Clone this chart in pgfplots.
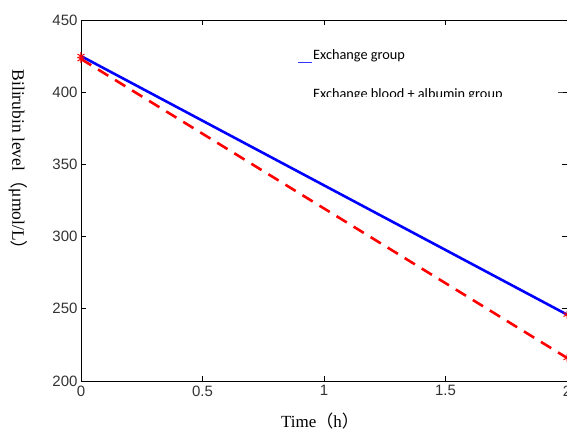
\documentclass[border=0pt]{standalone}
\usepackage{pgfplots}
\pgfplotsset{compat=1.18}
\usepackage{fontspec}
\setmainfont{Liberation Sans}
\newfontfamily\serif{Liberation Serif}
\newfontfamily\cjk{Noto Sans CJK SC}
\newfontfamily\calibri{Carlito}
\begin{document}
\begin{tikzpicture}
\useasboundingbox (-81pt,-49pt) rectangle (486pt,381pt);
\begin{axis}[
 at={(0,0)}, anchor=south west,
 width=486pt, height=361pt, scale only axis,
 xmin=0, xmax=2, ymin=200, ymax=450,
 xtick={0,0.5,1,1.5,2}, ytick={200,250,...,450},
 tick align=inside, major tick length=5pt,
 tick style={black, line width=0.6pt},
 axis line style={line width=0.8pt},
 ticklabel style={font=\fontsize{15}{15}\selectfont, text=black!80},
 /pgf/number format/assume math mode=true,
 xticklabel style={yshift=-1pt},
 clip=false,
]
\addplot[blue, line width=2.6pt, mark=asterisk, mark size=4pt, mark options={red, solid, line width=1pt}] coordinates {(0,425) (2,246)};
\addplot[red, line width=2.6pt, dash pattern=on 12pt off 8pt, mark=asterisk, mark size=4pt, mark options={red, solid, line width=1pt}] coordinates {(0,423) (2,216)};
\end{axis}
% legend
\draw[blue!80!white, line width=0.8pt] (217pt,319pt) -- (231pt,319pt);
\node[anchor=base west, inner sep=0pt, font=\calibri\fontsize{14.3}{14.3}\selectfont] at (232pt,321pt) {Exchange group};
\begin{scope}
\clip (200pt,284.5pt) rectangle (486pt,300pt);
\node[anchor=base west, inner sep=0pt, font=\calibri\fontsize{14.3}{14.3}\selectfont] at (232pt,282pt) {Exchange blood + albumin group};
\end{scope}
\draw[black!70, line width=0.6pt] (477pt,289pt) -- (482pt,289pt);
% axis labels
\node[font=\serif\fontsize{17}{17}\selectfont] at (239pt,-40pt) {Time{\cjk （}h{\cjk ）}};
\node[rotate=-90, font=\serif\fontsize{17.5}{17.5}\selectfont] at (-63pt,217pt) {Bilirubin level{\cjk （}μmol/L{\cjk ）}};
\end{tikzpicture}
\end{document}
